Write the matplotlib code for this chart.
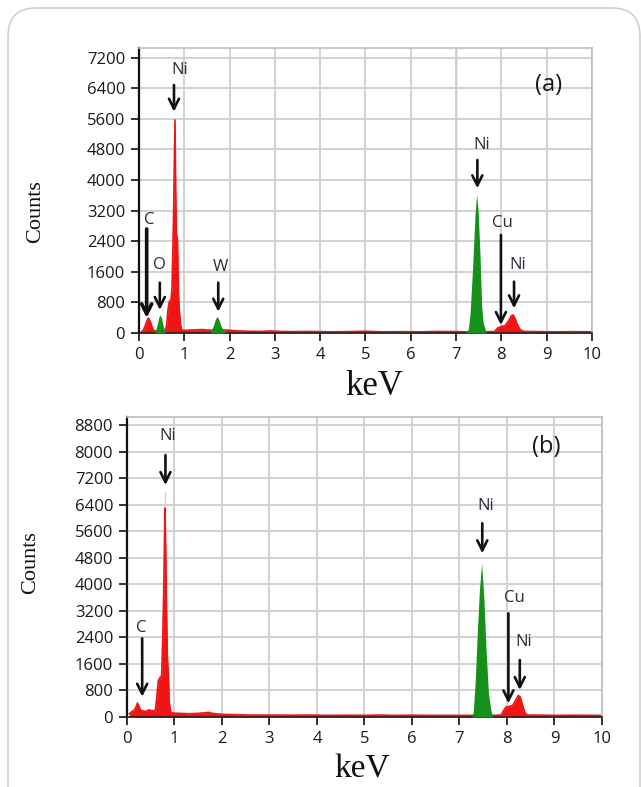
"""EDS spectra of the two samples, panels (a) and (b)"""
import matplotlib.pyplot as plt
from matplotlib.patches import FancyBboxPatch
from matplotlib.transforms import IdentityTransform

# ---- panel (a) spectrum (keV, counts) ----
energy_a = [0.05, 0.10, 0.14, 0.18, 0.21, 0.25, 0.29, 0.33, 0.40, 0.50, 0.57,
            0.61, 0.64, 0.67, 0.71, 0.73, 0.76, 0.795, 0.81, 0.825, 0.85, 0.87,
            0.89, 0.92, 0.95, 1.05, 1.2, 1.4, 1.6, 1.9, 2.1, 2.4, 2.7, 2.9, 3.1,
            3.4, 3.8, 4.2, 4.6, 5.0, 5.4, 5.8, 6.2, 6.6, 7.0, 7.2, 7.7, 7.85,
            7.92, 8.0, 8.08, 8.15, 8.22, 8.26, 8.30, 8.36, 8.42, 8.5, 8.8, 9.2,
            9.6, 10.0]
counts_a = [20, 80, 200, 330, 390, 300, 150, 60, 50, 50, 40,
            200, 600, 820, 880, 1200, 2800, 5570, 3800, 2600, 2450, 1100,
            600, 200, 70, 70, 80, 90, 70, 80, 60, 45, 40, 55, 40,
            35, 40, 30, 35, 45, 30, 35, 30, 40, 35, 30, 30, 40,
            130, 170, 190, 300, 450, 470, 380, 200, 80, 40, 35, 30,
            35, 30]

# green peaks of panel (a): O K, W M, Ni K-alpha
o_energy_a = [0.36, 0.40, 0.44, 0.47, 0.50, 0.54, 0.58]
o_counts_a = [40, 200, 420, 470, 380, 150, 40]
w_energy_a = [1.58, 1.64, 1.69, 1.73, 1.77, 1.82, 1.90]
w_counts_a = [50, 180, 370, 430, 330, 150, 50]
nika_energy_a = [7.22, 7.27, 7.31, 7.37, 7.42, 7.455, 7.49, 7.53, 7.565, 7.60, 7.66]
nika_counts_a = [30, 100, 514, 1822, 3129, 3630, 3129, 1995, 688, 254, 40]

# ---- panel (b) spectrum ----
energy_b = [0.05, 0.10, 0.15, 0.19, 0.22, 0.25, 0.29, 0.34, 0.40, 0.46, 0.50,
            0.54, 0.58, 0.60, 0.625, 0.66, 0.70, 0.73, 0.75, 0.77, 0.80, 0.815,
            0.835, 0.85, 0.87, 0.89, 0.92, 0.96, 1.1, 1.3, 1.5, 1.65, 1.72, 1.8,
            2.0, 2.3, 2.6, 3.0, 3.4, 3.8, 4.2, 4.6, 5.0, 5.3, 5.6, 6.0, 6.4, 6.8,
            7.2, 7.7, 7.88, 7.93, 7.98, 8.05, 8.12, 8.18, 8.24, 8.28, 8.33, 8.38,
            8.43, 8.6, 9.0, 9.4, 9.8, 10.0]
counts_b = [100, 160, 200, 300, 420, 330, 200, 180, 170, 220, 190,
            200, 150, 250, 550, 1100, 1200, 1250, 2200, 3500, 6300, 5000,
            3000, 1800, 1300, 450, 160, 120, 110, 100, 110, 130, 140, 110,
            80, 70, 60, 60, 55, 60, 50, 55, 50, 60, 50, 55, 50, 50,
            50, 50, 60, 200, 300, 320, 350, 500, 650, 600, 350, 120,
            60, 60, 50, 55, 50, 50]

# faint top of the Ni L peak in (b)
nila_top_energy_b = [0.78, 0.785, 0.815, 0.82]
nila_top_counts_b = [0, 6790, 6790, 0]

nika_energy_b = [7.27, 7.29, 7.33, 7.375, 7.42, 7.467, 7.516, 7.56, 7.61, 7.66, 7.69]
nika_counts_b = [40, 150, 1015, 2522, 3828, 4630, 3526, 2019, 714, 211, 50]

# ---- peak labels: text, label position, arrow x, arrow top, arrow tip ----
names_a = ['Ni', 'C', 'O', 'W', 'Ni', 'Cu', 'Ni']
label_x_a = [0.89, 0.22, 0.45, 1.79, 7.565, 8.02, 8.35]
label_y_a = [6875, 2954, 1777, 1733, 4914, 2867, 1777]
arrow_x_a = [0.773, 0.17, 0.46, 1.75, 7.47, 7.99, 8.28]
arrow_top_a = [6483, 2719, 1315, 1315, 4522, 2562, 1341]
arrow_tip_a = [5785, 392, 601, 557, 3782, 209, 645]

names_b = ['Ni', 'C', 'Ni', 'Cu', 'Ni']
label_x_b = [0.855, 0.295, 7.55, 8.15, 8.36]
label_y_b = [8469, 2673, 6360, 3577, 2270]
arrow_x_b = [0.81, 0.32, 7.48, 8.03, 8.27]
arrow_top_b = [7897, 2372, 5838, 3125, 1718]
arrow_tip_b = [6992, 612, 4934, 413, 814]

yticks_a = [0, 800, 1600, 2400, 3200, 4000, 4800, 5600, 6400, 7200]
yticks_b = [0, 800, 1600, 2400, 3200, 4000, 4800, 5600, 6400, 7200, 8000, 8800]
xticks = [0, 1, 2, 3, 4, 5, 6, 7, 8, 9, 10]

RED = '#f01414'
GREEN = '#15901a'
GRID = '#cfcfcf'
SANS = 'Open Sans'
SERIF = 'Liberation Serif'


def style_axes(ax, ytop, yticks):
    ax.set_xlim(0, 10)
    ax.set_ylim(0, ytop)
    ax.set_xticks(xticks)
    ax.set_yticks(yticks)
    ax.grid(True, color=GRID, lw=1.3)
    ax.set_axisbelow(True)
    for side in ('top', 'right'):
        ax.spines[side].set_color('#bdbdbd')
        ax.spines[side].set_linewidth(1.2)
    ax.spines['left'].set_color('#111111')
    ax.spines['left'].set_linewidth(1.6)
    ax.spines['bottom'].set_color('#222222')
    ax.spines['bottom'].set_linewidth(1.2)
    ax.tick_params(direction='out', length=6, width=1.3, color='#222222',
                   labelcolor='#1a1a1a', labelsize=12, pad=4)
    for lab in ax.get_xticklabels() + ax.get_yticklabels():
        lab.set_family(SANS)


def add_peak_labels(ax, names, lx, ly, ax_x, top, tip, thick=None):
    for i, name in enumerate(names):
        ax.text(lx[i], ly[i], name, ha='center', va='center', fontsize=12,
                family=SANS, color='#2c2c3a', zorder=6)
        lw = 2.6 if thick == i else 1.9
        ax.annotate('', xy=(ax_x[i], tip[i]), xytext=(ax_x[i], top[i]),
                    arrowprops=dict(arrowstyle='->', color='#111111', lw=lw,
                                    mutation_scale=18, shrinkA=0, shrinkB=0),
                    zorder=6)


fig = plt.figure(figsize=(6.41, 7.87), dpi=100)

# ---------------- panel (a) ----------------
ax_a = fig.add_axes([0.2168, 0.5769, 0.7067, 0.3621])
style_axes(ax_a, 7450, yticks_a)
ax_a.axvline(7, color='#a8a8a8', lw=1.0, zorder=0.5)
ax_a.fill_between(energy_a, counts_a, color=RED, lw=0, zorder=2)
ax_a.plot(energy_a, counts_a, color=RED, lw=1.2, zorder=2)
for e, c in [(o_energy_a, o_counts_a), (w_energy_a, w_counts_a),
             (nika_energy_a, nika_counts_a)]:
    ax_a.fill_between(e, c, color=GREEN, lw=0, zorder=3)
add_peak_labels(ax_a, names_a, label_x_a, label_y_a, arrow_x_a,
                arrow_top_a, arrow_tip_a, thick=1)
ax_a.text(0.905, 0.87, '(a)', transform=ax_a.transAxes, ha='center',
          va='center', fontsize=17, family=SANS, color='#1a1a1a')

# ---------------- panel (b) ----------------
ax_b = fig.add_axes([0.1981, 0.0889, 0.7410, 0.3812])
style_axes(ax_b, 9042, yticks_b)
ax_b.fill_between(nila_top_energy_b, nila_top_counts_b, color='#f6c4c4',
                  lw=0, zorder=1.8)
ax_b.fill_between(energy_b, counts_b, color=RED, lw=0, zorder=2)
ax_b.plot(energy_b, counts_b, color=RED, lw=1.2, zorder=2)
ax_b.fill_between(nika_energy_b, nika_counts_b, color=GREEN, lw=0, zorder=3)
add_peak_labels(ax_b, names_b, label_x_b, label_y_b, arrow_x_b,
                arrow_top_b, arrow_tip_b)
ax_b.text(0.882, 0.90, '(b)', transform=ax_b.transAxes, ha='center',
          va='center', fontsize=17, family=SANS, color='#1a1a1a')

# axis titles placed in pixel terms of the figure
fig.text(36 / 641, 1 - 212 / 787, 'Counts', rotation=90, ha='center',
         va='center', fontsize=16, family=SERIF, color='#111111')
fig.text(374 / 641, 1 - 386 / 787, 'keV', ha='center', va='center',
         fontsize=25, family=SERIF, color='#111111')
fig.text(31 / 641, 1 - 563 / 787, 'Counts', rotation=90, ha='center',
         va='center', fontsize=16, family=SERIF, color='#111111')
fig.text(362 / 641, 1 - 769 / 787, 'keV', ha='center', va='center',
         fontsize=24, family=SERIF, color='#111111')

# rounded page frame
frame = FancyBboxPatch((8, -40), 632, 819,
                       boxstyle='round,pad=0,rounding_size=28',
                       transform=IdentityTransform(), fc='none',
                       ec='#cccccc', lw=1.1)
fig.add_artist(frame)

fig.savefig('out.png', dpi=100)
